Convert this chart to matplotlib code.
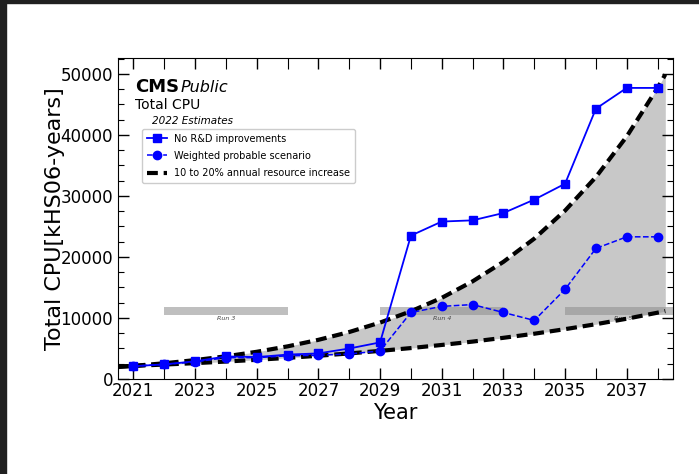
import matplotlib
matplotlib.use('Agg')
import matplotlib.pyplot as plt
from matplotlib.patches import Rectangle
from matplotlib.ticker import MultipleLocator

# Data
years = [2021, 2022, 2023, 2024, 2025, 2026, 2027, 2028, 2029,
         2030, 2031, 2032, 2033, 2034, 2035, 2036, 2037, 2038]
no_rd = [2100, 2400, 2900, 3700, 3600, 4000, 4200, 5000, 6000,
         23500, 25800, 26000, 27200, 29400, 32000, 44300, 47700, 47700]
weighted = [2100, 2400, 2800, 3500, 3500, 3800, 3900, 4100, 4600,
            10900, 11900, 12200, 10900, 9600, 14700, 21400, 23300, 23300]

# resource increase envelope
env_years = [2020.5, 2021, 2022, 2023, 2024, 2025, 2026, 2027, 2028, 2029,
             2030, 2031, 2032, 2033, 2034, 2035, 2036, 2037, 2038, 2038.25]
env_high = [1960, 2150, 2580, 3100, 3720, 4460, 5350, 6420, 7700, 9250,
            11100, 13300, 16000, 19200, 23000, 27600, 33100, 39750, 47700, 49900]
env_low = [2050, 2150, 2370, 2600, 2860, 3150, 3460, 3810, 4190, 4610,
           5070, 5580, 6130, 6750, 7420, 8170, 8980, 9880, 10870, 11130]

# LHC runs
run_names = ['Run 3', 'Run 4', 'Run 5']
run_start = [2022, 2029, 2035]
run_end = [2026, 2033, 2038.5]

fig = plt.figure(figsize=(6.99, 4.74), dpi=100)
ax = fig.add_axes([0.1688, 0.2004, 0.794, 0.6772])

# screenshot frame
fig.patches.append(Rectangle((0, 0), 6 / 699, 1, transform=fig.transFigure,
                             color='#202020', zorder=10))
fig.patches.append(Rectangle((0, 1 - 3 / 474), 1, 3 / 474, transform=fig.transFigure,
                             color='#202020', zorder=10))

ax.fill_between(env_years, env_low, env_high, color='#c8c8c8', zorder=1, lw=0)

for name, x0, x1 in zip(run_names, run_start, run_end):
    ax.add_patch(Rectangle((x0, 10550), x1 - x0, 1300, color='#8c8c8c',
                           alpha=0.55, lw=0, zorder=2))
    ax.text((x0 + x1) / 2 if name != 'Run 5' else 2036.9, 9900, name,
            fontsize=4.5, style='italic', color='#444444',
            ha='center', va='center', zorder=3)

ax.plot(years, no_rd, color='#0000ff', marker='s', ms=6, lw=1.3,
        label='No R&D improvements', zorder=5)
ax.plot(years, weighted, color='#0000ff', marker='o', ms=6, lw=1.1, ls='--',
        label='Weighted probable scenario', zorder=5)
ax.plot(env_years, env_high, color='black', lw=3, ls='--', dashes=(2.6, 1.4),
        label='10 to 20% annual resource increase', zorder=4)
ax.plot(env_years, env_low, color='black', lw=3, ls='--', dashes=(2.6, 1.4), zorder=4)

ax.set_xlim(2020.5, 2038.5)
ax.set_ylim(0, 52600)
ax.set_xticks([2021, 2023, 2025, 2027, 2029, 2031, 2033, 2035, 2037])
ax.set_xticks(range(2021, 2039), minor=True)
ax.yaxis.set_major_locator(MultipleLocator(10000))
ax.yaxis.set_minor_locator(MultipleLocator(2500))
ax.tick_params(which='both', direction='in', top=True, right=True, labelsize=12)
ax.tick_params(which='major', length=8, width=1)
ax.tick_params(which='minor', length=4, width=0.8)
ax.tick_params(axis='x', which='minor', length=8)
ax.tick_params(axis='x', pad=2)

ax.set_xlabel('Year', fontsize=15, labelpad=2)
ax.set_ylabel('Total CPU[kHS06-years]', fontsize=16, labelpad=-3)

ax.text(0.03, 0.895, 'CMS', transform=ax.transAxes, fontsize=13,
        fontweight='bold', ha='left', va='baseline')
ax.text(0.113, 0.895, 'Public', transform=ax.transAxes, fontsize=11.5,
        style='italic', ha='left', va='baseline')
ax.text(0.03, 0.84, 'Total CPU', transform=ax.transAxes, fontsize=10,
        ha='left', va='baseline')
ax.text(0.062, 0.795, '2022 Estimates', transform=ax.transAxes, fontsize=7.5,
        style='italic', ha='left', va='baseline')

leg = ax.legend(loc='upper left', bbox_to_anchor=(0.035, 0.795), fontsize=7,
                frameon=True, fancybox=True, handlelength=2, borderpad=0.5,
                labelspacing=0.75)
leg.get_frame().set_edgecolor('#cccccc')
leg.get_frame().set_alpha(1)

fig.savefig('out.png', dpi=100)
